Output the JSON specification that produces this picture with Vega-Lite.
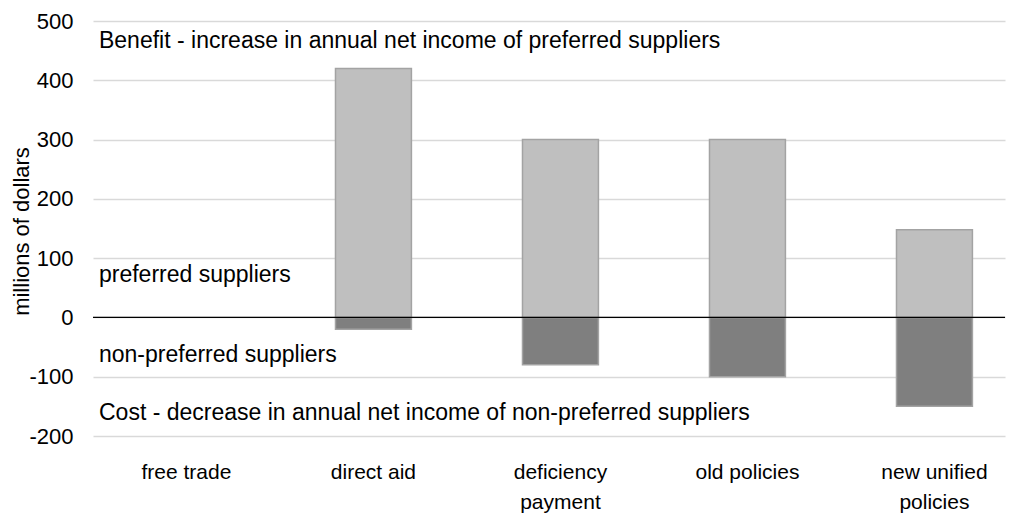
{
  "$schema": "https://vega.github.io/schema/vega-lite/v6.json",
  "width": 912,
  "height": 415,
  "autosize": {"type": "none"},
  "padding": {"left": 93, "top": 21, "right": 16, "bottom": 78},
  "background": "white",
  "config": {
    "font": "Liberation Sans",
    "view": {"stroke": null}
  },
  "datasets": {
    "bars": [
      {"policy": "direct aid", "group": "preferred suppliers", "value": 420},
      {"policy": "direct aid", "group": "non-preferred suppliers", "value": -20},
      {"policy": "deficiency|payment", "group": "preferred suppliers", "value": 300},
      {"policy": "deficiency|payment", "group": "non-preferred suppliers", "value": -80},
      {"policy": "old policies", "group": "preferred suppliers", "value": 300},
      {"policy": "old policies", "group": "non-preferred suppliers", "value": -100},
      {"policy": "new unified|policies", "group": "preferred suppliers", "value": 148},
      {"policy": "new unified|policies", "group": "non-preferred suppliers", "value": -150}
    ],
    "notes": [
      {"label": "Benefit - increase in annual net income of preferred suppliers", "value": 454},
      {"label": "preferred suppliers", "value": 60},
      {"label": "non-preferred suppliers", "value": -76},
      {"label": "Cost - decrease in annual net income of non-preferred suppliers", "value": -173}
    ],
    "zero": [{"value": 0}]
  },
  "layer": [
    {
      "data": {"name": "bars"},
      "mark": {"type": "bar", "strokeWidth": 1.5, "stroke": "#a3a3a3"},
      "encoding": {
        "x": {
          "field": "policy",
          "type": "nominal",
          "sort": null,
          "scale": {
            "domain": ["free trade", "direct aid", "deficiency|payment", "old policies", "new unified|policies"],
            "paddingInner": 0.594,
            "paddingOuter": 0.2355,
            "align": 0.63
          },
          "axis": {
            "title": null,
            "domain": false,
            "ticks": false,
            "labelAngle": 0,
            "labelFontSize": 21,
            "labelColor": "#000000",
            "labelPadding": 25,
            "labelLineHeight": 30,
            "labelExpr": "split(datum.value, '|')"
          }
        },
        "y": {
          "field": "value",
          "type": "quantitative",
          "scale": {"domain": [-200, 500], "nice": false, "zero": false},
          "axis": {
            "values": [-200, -100, 0, 100, 200, 300, 400, 500],
            "labelExpr": "datum.value + ''",
            "title": "millions of dollars",
            "titleFontSize": 22,
            "titleFontWeight": "normal",
            "titleColor": "#000000",
            "titleX": -72,
            "titleY": 210,
            "titleAngle": -90,
            "titleBaseline": "middle",
            "titleAlign": "center",
            "domain": false,
            "ticks": false,
            "labelFontSize": 22,
            "labelColor": "#000000",
            "labelPadding": 20,
            "gridColor": "#d9d9d9",
            "gridWidth": 1.3
          }
        },
        "y2": {"datum": 0},
        "color": {
          "field": "group",
          "type": "nominal",
          "scale": {
            "domain": ["preferred suppliers", "non-preferred suppliers"],
            "range": ["#bfbfbf", "#7f7f7f"]
          },
          "legend": null
        }
      }
    },
    {
      "data": {"name": "zero"},
      "mark": {"type": "rule", "color": "#000000", "strokeWidth": 1.3},
      "encoding": {
        "y": {"field": "value", "type": "quantitative"}
      }
    },
    {
      "data": {"name": "notes"},
      "mark": {"type": "text", "align": "left", "baseline": "alphabetic", "fontSize": 23, "color": "#000000", "dx": -49.5},
      "encoding": {
        "x": {"datum": "free trade", "bandPosition": 0},
        "y": {"field": "value", "type": "quantitative"},
        "text": {"field": "label"}
      }
    }
  ]
}
